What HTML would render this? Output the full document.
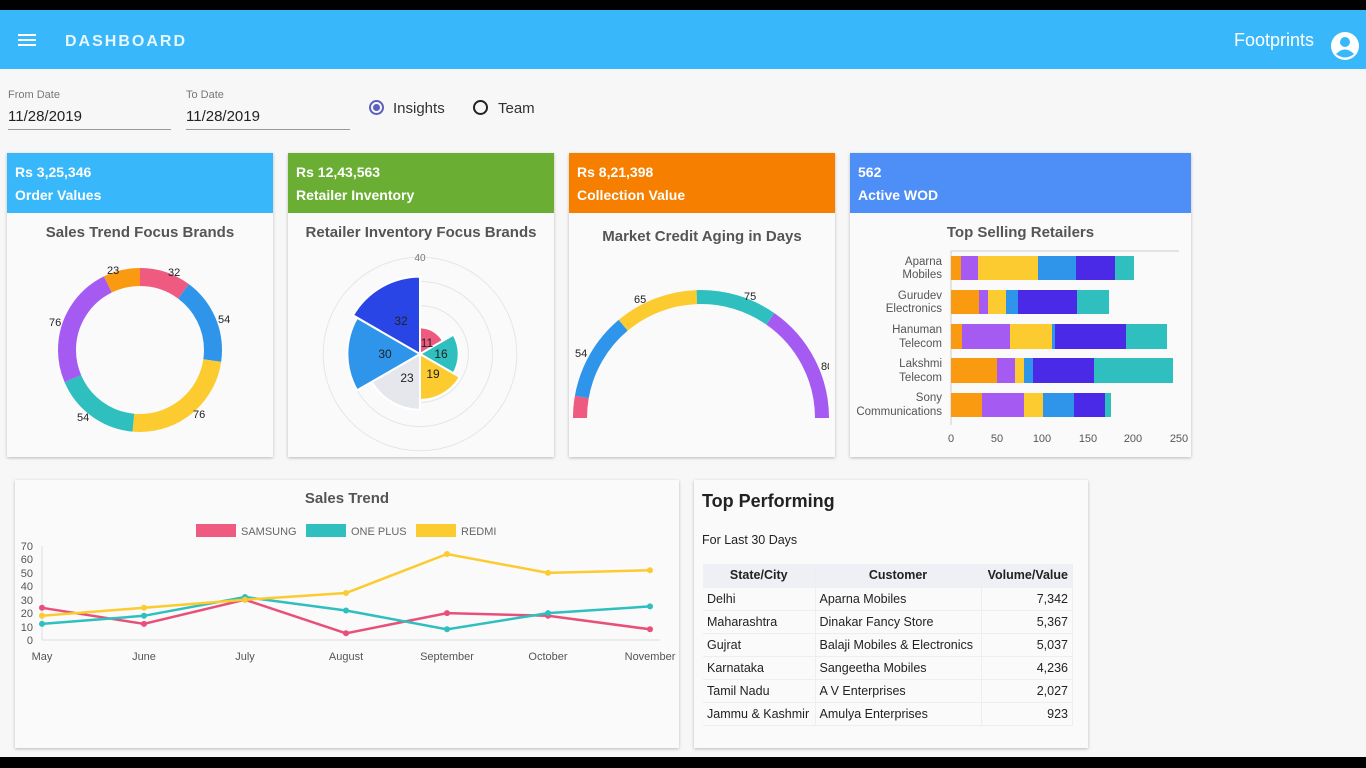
<!DOCTYPE html>
<html><head><meta charset="utf-8"><style>
*{margin:0;padding:0;box-sizing:border-box}
body{width:1366px;height:768px;position:relative;background:#f7f7f7;font-family:"Liberation Sans",Arial,sans-serif;overflow:hidden}
.a{position:absolute}
.card{position:absolute;background:#fafafa;box-shadow:0 1px 3px rgba(0,0,0,.25)}
.hd{position:absolute;left:0;top:0;right:0;height:60px;color:#fff;font-weight:bold;font-size:14px;padding:8px 8px;line-height:23px}
.t{position:absolute;width:100%;text-align:center;font-size:15px;font-weight:bold;color:#555}
table{border-collapse:collapse;font-size:12.5px;color:#222}
td,th{height:23px;padding:0 4px;border-bottom:1px solid #eee;border-right:1px solid #eee}
th{background:#eef0f5;font-weight:bold}
</style></head><body>
<div class="a" style="left:0;top:0;width:1366px;height:10px;background:#000"></div>
<div class="a" style="left:0;top:10px;width:1366px;height:59px;background:#38b8fa"></div>
<div class="a" style="left:18px;top:34px;width:18px;height:2px;background:#fff;box-shadow:0 5px 0 #fff,0 10px 0 #fff"></div>
<div class="a" style="left:65px;top:33px;color:#e8f6ff;font-weight:bold;font-size:16px;letter-spacing:2px">DASHBOARD</div>
<div class="a" style="left:1234px;top:30px;color:#fff;font-size:18px">Footprints</div>
<svg class="a" style="left:1330px;top:31px" width="30" height="30" viewBox="0 0 30 30"><circle cx="15" cy="15" r="14" fill="#fff"/><circle cx="15" cy="11" r="5" fill="#38b8fa"/><path d="M6 23 Q15 14 24 23 Q15 30 6 23Z" fill="#38b8fa"/></svg>
<div class="a" style="left:0;top:757px;width:1366px;height:11px;background:#000"></div>

<div class="a" style="left:8px;top:89px;font-size:11px;color:#777">From Date</div>
<div class="a" style="left:8px;top:108px;font-size:15px;color:#222">11/28/2019</div>
<div class="a" style="left:8px;top:129px;width:163px;height:1px;background:#999"></div>
<div class="a" style="left:186px;top:89px;font-size:11px;color:#777">To Date</div>
<div class="a" style="left:186px;top:108px;font-size:15px;color:#222">11/28/2019</div>
<div class="a" style="left:186px;top:129px;width:164px;height:1px;background:#999"></div>
<div class="a" style="left:369px;top:100px;width:15px;height:15px;border:2px solid #5c5fbf;border-radius:50%"></div>
<div class="a" style="left:373px;top:104px;width:7px;height:7px;background:#5c5fbf;border-radius:50%"></div>
<div class="a" style="left:393px;top:100px;font-size:15px;color:#333">Insights</div>
<div class="a" style="left:473px;top:100px;width:15px;height:15px;border:2px solid #222;border-radius:50%"></div>
<div class="a" style="left:498px;top:100px;font-size:15px;color:#333">Team</div>

<div class="card" style="left:7px;top:153px;width:266px;height:304px"><div class="hd" style="background:#38b8fa">Rs 3,25,346<br>Order Values</div><div class="t" style="top:71px">Sales Trend Focus Brands</div></div>
<div class="card" style="left:288px;top:153px;width:266px;height:304px"><div class="hd" style="background:#6aaf34">Rs 12,43,563<br>Retailer Inventory</div><div class="t" style="top:71px">Retailer Inventory Focus Brands</div></div>
<div class="card" style="left:569px;top:153px;width:266px;height:304px"><div class="hd" style="background:#f77f00">Rs 8,21,398<br>Collection Value</div><div class="t" style="top:75px">Market Credit Aging in Days</div></div>
<div class="card" style="left:850px;top:153px;width:341px;height:304px"><div class="hd" style="background:#4e8ef7">562<br>Active WOD</div><div class="t" style="top:71px">Top Selling Retailers</div></div>
<div class="card" style="left:15px;top:480px;width:664px;height:268px"><div class="t" style="top:10px">Sales Trend</div></div>
<div class="card" style="left:694px;top:480px;width:394px;height:268px">
<div class="a" style="left:8px;top:11px;font-size:18px;font-weight:bold;color:#222">Top Performing</div>
<div class="a" style="left:8px;top:53px;font-size:12.5px;color:#222">For Last 30 Days</div>
<table class="a" style="left:9px;top:84px;width:370px">
<tr><th style="width:112px">State/City</th><th style="width:166px">Customer</th><th style="text-align:right">Volume/Value</th></tr>
<tr><td>Delhi</td><td>Aparna Mobiles</td><td align="right">7,342</td></tr>
<tr><td>Maharashtra</td><td>Dinakar Fancy Store</td><td align="right">5,367</td></tr>
<tr><td>Gujrat</td><td>Balaji Mobiles &amp; Electronics</td><td align="right">5,037</td></tr>
<tr><td>Karnataka</td><td>Sangeetha Mobiles</td><td align="right">4,236</td></tr>
<tr><td>Tamil Nadu</td><td>A V Enterprises</td><td align="right">2,027</td></tr>
<tr><td>Jammu &amp; Kashmir</td><td>Amulya Enterprises</td><td align="right">923</td></tr>
</table></div>

<svg class="a" style="left:0;top:0" width="1366" height="768" font-family="Liberation Sans, Arial, sans-serif">
<g transform="rotate(-90 140 350)" fill="none" stroke-width="18">
<circle cx="140" cy="350" r="73" stroke="#ef5a80" stroke-dasharray="46.6 500"/>
<circle cx="140" cy="350" r="73" stroke="#2f95ea" stroke-dasharray="78.6 500" stroke-dashoffset="-46.6"/>
<circle cx="140" cy="350" r="73" stroke="#fbcb2f" stroke-dasharray="110.7 500" stroke-dashoffset="-125.2"/>
<circle cx="140" cy="350" r="73" stroke="#2fbfbf" stroke-dasharray="78.6 500" stroke-dashoffset="-235.9"/>
<circle cx="140" cy="350" r="73" stroke="#a55af2" stroke-dasharray="110.7 500" stroke-dashoffset="-314.5"/>
<circle cx="140" cy="350" r="73" stroke="#f99a10" stroke-dasharray="33.5 500" stroke-dashoffset="-425.2"/>
</g>
<g font-size="11" fill="#222"><text x="168" y="276">32</text><text x="218" y="323">54</text><text x="193" y="418">76</text><text x="77" y="421">54</text><text x="49" y="326">76</text><text x="107" y="274">23</text></g>
<g fill="none" stroke="#e6e6e6"><circle cx="420" cy="354" r="24.2"/><circle cx="420" cy="354" r="48.4"/><circle cx="420" cy="354" r="72.6"/><circle cx="420" cy="354" r="96.8"/></g>
<g stroke="#fff" stroke-width="2">
<path d="M420 354 L420 327.4 A26.6 26.6 0 0 1 443 340.7Z" fill="#ef5a80"/>
<path d="M420 354 L453.5 334.6 A38.7 38.7 0 0 1 453.5 373.4Z" fill="#2fbfbf"/>
<path d="M420 354 L459.8 377 A46 46 0 0 1 420 400Z" fill="#fbcb2f"/>
<path d="M420 354 L420 409.7 A55.7 55.7 0 0 1 371.8 381.9Z" fill="#e6e7ec"/>
<path d="M420 354 L357.1 390.3 A72.6 72.6 0 0 1 357.1 317.7Z" fill="#2f95ea"/>
<path d="M420 354 L353 315.3 A77.4 77.4 0 0 1 420 276.6Z" fill="#2a45e6"/>
</g>
<g font-size="12" fill="#222" text-anchor="middle"><text x="420" y="261" fill="#777" font-size="10">40</text><text x="401" y="325">32</text><text x="385" y="358">30</text><text x="407" y="382">23</text><text x="427" y="347">11</text><text x="441" y="358">16</text><text x="433" y="378">19</text></g>
<g fill="none" stroke-width="14">
<path d="M580 418 A121 121 0 0 1 581.8 397" stroke="#ef5a80"/>
<path d="M581.8 397 A121 121 0 0 1 623.2 325.3" stroke="#2f95ea"/>
<path d="M623.2 325.3 A121 121 0 0 1 696.8 297.1" stroke="#fbcb2f"/>
<path d="M696.8 297.1 A121 121 0 0 1 770.4 318.9" stroke="#2fbfbf"/>
<path d="M770.4 318.9 A121 121 0 0 1 822 418" stroke="#a55af2"/>
</g>
<g font-size="11" fill="#222"><text x="575" y="357">54</text><text x="634" y="303">65</text><text x="744" y="300">75</text><text x="821" y="370">80</text></g>
<rect x="829" y="350" width="6" height="30" fill="#fafafa"/>
<line x1="951" y1="251" x2="1179" y2="251" stroke="#ccc"/>
<line x1="951" y1="251" x2="951" y2="425" stroke="#ccc"/>
<g>
<rect x="951" y="256" width="10" height="24" fill="#f99a10"/><rect x="961" y="256" width="17" height="24" fill="#a55af2"/><rect x="978" y="256" width="60" height="24" fill="#fbcb2f"/><rect x="1038" y="256" width="38" height="24" fill="#2f95ea"/><rect x="1076" y="256" width="39" height="24" fill="#4a2ae6"/><rect x="1115" y="256" width="19" height="24" fill="#2fbfbf"/>
<rect x="951" y="290" width="28" height="24" fill="#f99a10"/><rect x="979" y="290" width="9" height="24" fill="#a55af2"/><rect x="988" y="290" width="18" height="24" fill="#fbcb2f"/><rect x="1006" y="290" width="12" height="24" fill="#2f95ea"/><rect x="1018" y="290" width="59" height="24" fill="#4a2ae6"/><rect x="1077" y="290" width="32" height="24" fill="#2fbfbf"/>
<rect x="951" y="324" width="11" height="25" fill="#f99a10"/><rect x="962" y="324" width="48" height="25" fill="#a55af2"/><rect x="1010" y="324" width="42" height="25" fill="#fbcb2f"/><rect x="1052" y="324" width="3" height="25" fill="#2f95ea"/><rect x="1055" y="324" width="71" height="25" fill="#4a2ae6"/><rect x="1126" y="324" width="41" height="25" fill="#2fbfbf"/>
<rect x="951" y="358" width="46" height="25" fill="#f99a10"/><rect x="997" y="358" width="18" height="25" fill="#a55af2"/><rect x="1015" y="358" width="9" height="25" fill="#fbcb2f"/><rect x="1024" y="358" width="9" height="25" fill="#2f95ea"/><rect x="1033" y="358" width="61" height="25" fill="#4a2ae6"/><rect x="1094" y="358" width="79" height="25" fill="#2fbfbf"/>
<rect x="951" y="393" width="31" height="24" fill="#f99a10"/><rect x="982" y="393" width="42" height="24" fill="#a55af2"/><rect x="1024" y="393" width="19" height="24" fill="#fbcb2f"/><rect x="1043" y="393" width="31" height="24" fill="#2f95ea"/><rect x="1074" y="393" width="31" height="24" fill="#4a2ae6"/><rect x="1105" y="393" width="6" height="24" fill="#2fbfbf"/>
</g>
<g font-size="11.5" fill="#555" text-anchor="end">
<text x="942" y="265">Aparna</text><text x="942" y="278">Mobiles</text>
<text x="942" y="299">Gurudev</text><text x="942" y="312">Electronics</text>
<text x="942" y="333">Hanuman</text><text x="942" y="347">Telecom</text>
<text x="942" y="367">Lakshmi</text><text x="942" y="381">Telecom</text>
<text x="942" y="401">Sony</text><text x="942" y="415">Communications</text>
</g>
<g font-size="11" fill="#555" text-anchor="middle"><text x="951" y="442">0</text><text x="997" y="442">50</text><text x="1042" y="442">100</text><text x="1088" y="442">150</text><text x="1133" y="442">200</text><text x="1179" y="442">250</text></g>
<g font-size="11" fill="#666">
<rect x="196" y="524" width="40" height="13" fill="#ef5a80"/><text x="241" y="535">SAMSUNG</text>
<rect x="306" y="524" width="40" height="13" fill="#2fbfbf"/><text x="351" y="535">ONE PLUS</text>
<rect x="416" y="524" width="40" height="13" fill="#fbcb2f"/><text x="461" y="535">REDMI</text>
</g>
<line x1="42" y1="546" x2="42" y2="640" stroke="#ddd"/><line x1="42" y1="640" x2="660" y2="640" stroke="#ddd"/>
<g font-size="11" fill="#555" text-anchor="end"><text x="33" y="550">70</text><text x="33" y="563">60</text><text x="33" y="577">50</text><text x="33" y="590">40</text><text x="33" y="604">30</text><text x="33" y="617">20</text><text x="33" y="631">10</text><text x="33" y="644">0</text></g>
<g font-size="11" fill="#555" text-anchor="middle"><text x="42" y="660">May</text><text x="144" y="660">June</text><text x="245" y="660">July</text><text x="346" y="660">August</text><text x="447" y="660">September</text><text x="548" y="660">October</text><text x="650" y="660">November</text></g>
<g fill="none" stroke-width="2.5">
<polyline points="42,607.8 144,623.9 245,599.7 346,633.3 447,613.1 548,615.8 650,629.3" stroke="#e8507a"/>
<polyline points="42,623.9 144,615.8 245,597 346,610.5 447,629.3 548,613.1 650,606.4" stroke="#2fbfbf"/>
<polyline points="42,615.8 144,607.8 245,599.7 346,593 447,554 548,572.9 650,570.2" stroke="#fbcb2f"/>
</g>
<g fill="#e8507a"><circle cx="42" cy="607.8" r="3"/><circle cx="144" cy="623.9" r="3"/><circle cx="245" cy="599.7" r="3"/><circle cx="346" cy="633.3" r="3"/><circle cx="447" cy="613.1" r="3"/><circle cx="548" cy="615.8" r="3"/><circle cx="650" cy="629.3" r="3"/></g>
<g fill="#2fbfbf"><circle cx="42" cy="623.9" r="3"/><circle cx="144" cy="615.8" r="3"/><circle cx="245" cy="597" r="3"/><circle cx="346" cy="610.5" r="3"/><circle cx="447" cy="629.3" r="3"/><circle cx="548" cy="613.1" r="3"/><circle cx="650" cy="606.4" r="3"/></g>
<g fill="#fbcb2f"><circle cx="42" cy="615.8" r="3"/><circle cx="144" cy="607.8" r="3"/><circle cx="245" cy="599.7" r="3"/><circle cx="346" cy="593" r="3"/><circle cx="447" cy="554" r="3"/><circle cx="548" cy="572.9" r="3"/><circle cx="650" cy="570.2" r="3"/></g>
</svg>
</body></html>
